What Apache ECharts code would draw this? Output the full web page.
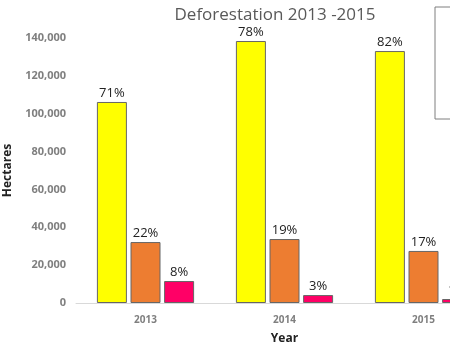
<!DOCTYPE html>
<html><head><meta charset="utf-8">
<script src="https://cdn.jsdelivr.net/npm/echarts@6/dist/echarts.min.js"></script>
<style>html,body{margin:0;padding:0;background:#fff}#c{width:450px;height:350px}</style>
</head><body><div id="c"></div>
<script>
const years = ['2013', '2014', '2015'];
const seriesNames = ['Primary forest', 'Secondary forest', 'Plantation'];
const primary = [106200, 138400, 133100];
const secondary = [32200, 33800, 27500];
const plantation = [11600, 4200, 2100];
const primaryPct = ['71%', '78%', '82%'];
const secondaryPct = ['22%', '19%', '17%'];
const plantationPct = ['8%', '3%', '1%'];
const colors = ['#FFFF00', '#ED7D31', '#FF0066'];

const chart = echarts.init(document.getElementById('c'));
function mk(name, data, pct, color) {
  return {
    name: name, type: 'bar', data: data, barWidth: 30, barGap: '12%',
    itemStyle: { color: color, borderColor: '#666', borderWidth: 1 },
    label: { show: true, position: 'top', distance: 2, color: '#222', fontSize: 13,
      fontFamily: 'Open Sans', formatter: p => pct[p.dataIndex] }
  };
}
chart.setOption({
  animation: false,
  title: { text: 'Deforestation 2013 -2015', left: 270, textAlign: 'center', top: 2,
    textStyle: { fontSize: 17, fontWeight: 'normal', color: '#595959', fontFamily: 'Open Sans' } },
  legend: { orient: 'vertical', left: 435, top: 7, padding: [8, 16], itemGap: 24,
    borderColor: '#7f7f7f', borderWidth: 1, data: seriesNames,
    textStyle: { color: '#595959', fontSize: 11 } },
  grid: { left: 76, top: 38, bottom: 47, right: -43, containLabel: false, outerBoundsMode: 'none' },
  xAxis: { type: 'category', data: years, name: 'Year', nameLocation: 'middle', nameGap: 30,
    nameTextStyle: { fontWeight: 'bold', color: '#222', fontSize: 12, fontFamily: 'Open Sans' },
    axisLine: { lineStyle: { color: '#d9d9d9', width: 1 } }, axisTick: { show: false },
    axisLabel: { color: '#7f7f7f', fontSize: 10, fontWeight: 'bold', margin: 12, fontFamily: 'Open Sans' } },
  yAxis: { type: 'value', min: 0, max: 140000, interval: 20000, name: 'Hectares', nameLocation: 'middle', nameGap: 62,
    nameTextStyle: { fontWeight: 'bold', color: '#222', fontSize: 12, fontFamily: 'Open Sans' },
    axisLine: { show: false }, axisTick: { show: false }, splitLine: { show: false },
    axisLabel: { color: '#7f7f7f', fontSize: 11, fontWeight: 'bold', margin: 10, fontFamily: 'Open Sans',
      formatter: v => v.toLocaleString('en-US') } },
  series: [
    mk(seriesNames[0], primary, primaryPct, colors[0]),
    mk(seriesNames[1], secondary, secondaryPct, colors[1]),
    mk(seriesNames[2], plantation, plantationPct, colors[2])
  ]
});
</script></body></html>
